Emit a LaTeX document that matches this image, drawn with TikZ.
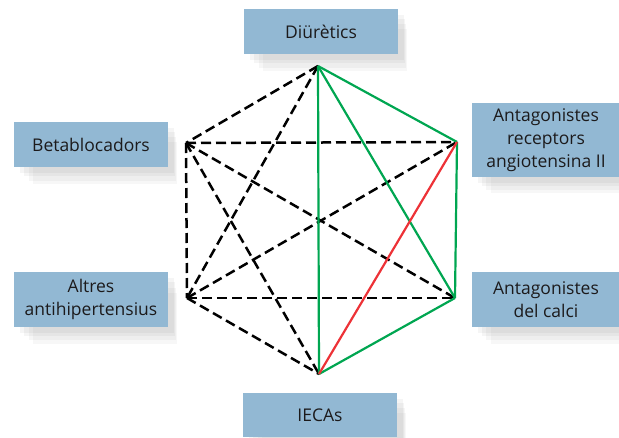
\documentclass[tikz,border=0pt]{standalone}
\usepackage{fontspec}
\setmainfont{Open Sans}
\usetikzlibrary{shadows}

\definecolor{boxblue}{RGB}{146,184,211}
\definecolor{linkgreen}{RGB}{0,166,81}
\definecolor{linkred}{RGB}{237,50,55}
\definecolor{textdark}{RGB}{28,26,27}

\tikzset{
  softshadow/.style={
    drop shadow={shadow xshift=6pt,shadow yshift=-6pt,opacity=.04,fill=black},
    drop shadow={shadow xshift=9pt,shadow yshift=-10pt,shadow scale=.98,opacity=.04,fill=black},
    drop shadow={shadow xshift=12pt,shadow yshift=-15pt,shadow scale=.96,opacity=.035,fill=black},
    drop shadow={shadow xshift=15pt,shadow yshift=-20pt,shadow scale=.93,opacity=.03,fill=black}},
  drug/.style={fill=boxblue,text=textdark,align=center,inner sep=0pt,
    font=\fontsize{17.5}{22.7}\selectfont,softshadow},
  nolink/.style={black,line width=2.5pt,dash pattern=on 10pt off 5pt},
  oklink/.style={linkgreen,line width=2.2pt},
  badlink/.style={linkred,line width=2.2pt}
}

\begin{document}
\begin{tikzpicture}[x=1pt,y=-1pt]
\useasboundingbox (0,0) rectangle (619,437);

% Drug classes
\node[drug,minimum width=154,minimum height=45] (diu) at (321,31.5) {Diürètics};
\node[drug,minimum width=154,minimum height=45] (beta) at (91,144.5) {Betablocadors};
\node[drug,minimum width=154,minimum height=55] (altres) at (91,299.5) {Altres\\antihipertensius};
\node[drug,minimum width=148,minimum height=74] (ara) at (546,140) {Antagonistes\\receptors\\angiotensina II};
\node[drug,minimum width=148,minimum height=55] (calci) at (546,299.5) {Antagonistes\\del calci};
\node[drug,minimum width=154,minimum height=44] (ieca) at (320,415) {IECAs};

% Corners of the hexagon
\coordinate (d) at (318,66);
\coordinate (b) at (186,143);
\coordinate (r) at (457,142);
\coordinate (a) at (187,298);
\coordinate (c) at (455,298);
\coordinate (i) at (319,374);

% Dashed pairs
\draw[nolink] (d) -- (b);
\draw[nolink] (d) -- (a);
\draw[nolink] (b) -- (a);
\draw[nolink] (b) -- (r);
\draw[nolink] (b) -- (c);
\draw[nolink] (b) -- (i);
\draw[nolink] (a) -- (r);
\draw[nolink] (a) -- (c);
\draw[nolink] (a) -- (i);

% Green pairs
\draw[oklink] (d) -- (r);
\draw[oklink] (d) -- (c);
\draw[oklink] (d) -- (i);
\draw[oklink] (r) -- (c);
\draw[oklink] (c) -- (i);

% Red pair
\draw[badlink] (r) -- (i);
\end{tikzpicture}
\end{document}
